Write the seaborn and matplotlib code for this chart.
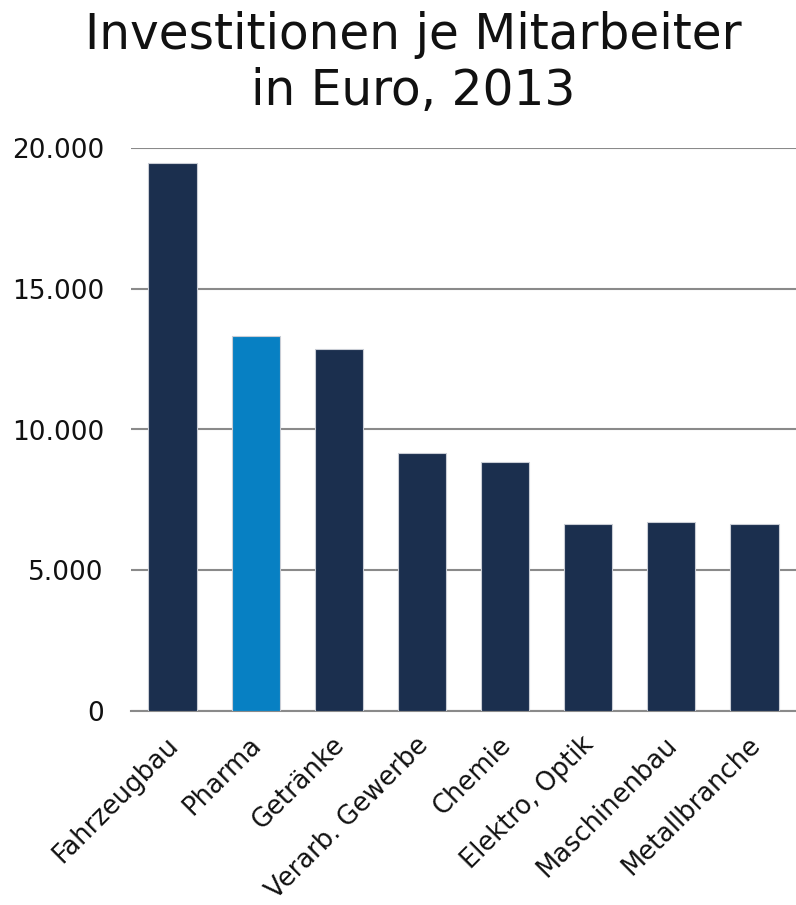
import matplotlib
matplotlib.use("Agg")
import matplotlib.pyplot as plt
import matplotlib.transforms as mtrans
import seaborn as sns
import pandas as pd

categories = ["Fahrzeugbau", "Pharma", "Getränke", "Verarb. Gewerbe", "Chemie",
              "Elektro, Optik", "Maschinenbau", "Metallbranche"]
values = [19450, 13320, 12870, 9170, 8850, 6650, 6710, 6630]
yticks = [0, 5000, 10000, 15000, 20000]
ytick_labels = ["0", "5.000", "10.000", "15.000", "20.000"]

dark = "#1b2f4e"
blue = "#0780c3"
palette = {c: (blue if c == "Pharma" else dark) for c in categories}

df = pd.DataFrame({"Branche": categories, "Wert": values})

sns.set_theme(style="white")
plt.rcParams["font.family"] = ["DejaVu Sans"]

fig = plt.figure(figsize=(7.96, 9.05), dpi=100)
ax = fig.add_axes([131/796, (905-711)/905, 665/796, 563/905])

sns.barplot(data=df, x="Branche", y="Wert", hue="Branche", palette=palette,
            legend=False, width=0.58, saturation=1, edgecolor="#c9cdd5",
            linewidth=0.8, ax=ax, zorder=3)

ax.set_ylim(0, 20000)
ax.set_xlim(-0.5, len(categories) - 0.5)
ax.set_yticks(yticks)
ax.set_yticklabels(ytick_labels, fontsize=19, color="#111111")
ax.set_xticks(range(len(categories)))
ax.set_xticklabels(categories, rotation=45, ha="right", rotation_mode="anchor",
                   fontsize=18.5, color="#111111")
ax.tick_params(axis="both", length=0)
ax.tick_params(axis="y", pad=19.5)
ax.tick_params(axis="x", pad=15)
shift = mtrans.ScaledTranslation(-7/100, 0, fig.dpi_scale_trans)
for lab in ax.get_xticklabels():
    lab.set_transform(lab.get_transform() + shift)
ax.set_xlabel("")
ax.set_ylabel("")
ax.yaxis.grid(True, color="#8a8a8a", linewidth=1.5, zorder=0)
ax.set_axisbelow(True)
for s in ["top", "right", "left"]:
    ax.spines[s].set_visible(False)
ax.spines["bottom"].set_color("#8a8a8a")
ax.spines["bottom"].set_linewidth(1.5)

fig.text(413/796, 1 - 11/905, "Investitionen je Mitarbeiter\nin Euro, 2013",
         ha="center", va="top", fontsize=35, color="#111111", linespacing=1.2)

fig.savefig("out.png", dpi=100)
